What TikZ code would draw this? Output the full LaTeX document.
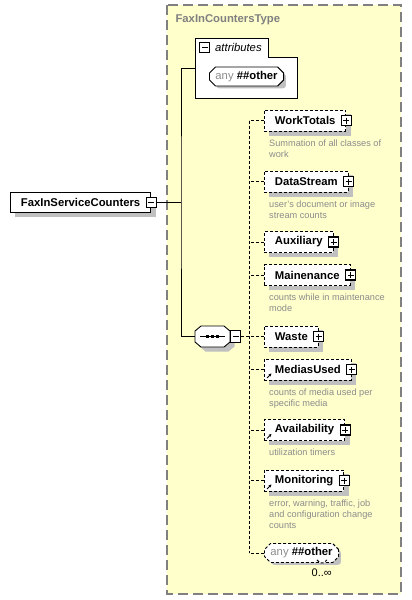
\documentclass[tikz,border=0pt]{standalone}
\usepackage{fontspec}
\setmainfont{Liberation Sans}
\usetikzlibrary{positioning, shapes.misc, arrows.meta}
\definecolor{typeyellow}{RGB}{255,255,204}
\definecolor{framegray}{RGB}{128,128,128}
\definecolor{shadegray}{RGB}{192,192,192}
\definecolor{notegray}{RGB}{140,140,140}
\pgfdeclarelayer{backdrop}
\pgfdeclarelayer{shadows}
\pgfsetlayers{backdrop,shadows,main}

\tikzset{
  namefont/.style={font=\fontsize{11.3}{13.5}\selectfont\bfseries},
  rootbox/.style={draw, fill=white, line width=0.9pt, minimum height=20pt, inner ysep=0pt, inner xsep=10.5pt, namefont, anchor=west},
  elembox/.style={draw, fill=white, line width=0.9pt, dash pattern=on 3pt off 2pt, minimum height=21pt, inner ysep=0pt, inner xsep=10.5pt, namefont, anchor=west},
  anybox/.style={chamfered rectangle, chamfered rectangle xsep=3pt, chamfered rectangle ysep=3pt, draw, fill=white, line width=0.9pt, minimum height=19pt, inner ysep=0pt, inner xsep=3pt, namefont, anchor=west},
  seqbox/.style={minimum width=35pt, minimum height=21pt, inner sep=0pt},
  togbox/.style={draw, solid, fill=white, line width=1.2pt, minimum size=10pt, inner sep=0pt},
  plusbox/.style={togbox, path picture={\draw[line width=1pt] ([xshift=2pt]path picture bounding box.west) -- ([xshift=-2pt]path picture bounding box.east) ([yshift=-2pt]path picture bounding box.north) -- ([yshift=2pt]path picture bounding box.south);}},
  minusbox/.style={togbox, path picture={\draw[line width=1pt] ([xshift=2pt]path picture bounding box.west) -- ([xshift=-2pt]path picture bounding box.east);}},
  note/.style={anchor=north west, inner sep=0pt, align=left, text=notegray, font=\fontsize{9.2}{11}\selectfont},
  tree/.style={line width=0.9pt},
  opt/.style={line width=0.9pt, dash pattern=on 3pt off 2pt},
  refarrow/.style={-{Stealth[length=3pt, width=3pt]}, line width=0.8pt}
}

\begin{document}
\begin{tikzpicture}[x=1pt, y=-1pt]
\useasboundingbox (0,0) rectangle (412,600);
% complex type frame
\begin{pgfonlayer}{backdrop}
\draw[framegray, line width=1.2pt, dash pattern=on 10pt off 5pt, fill=typeyellow] (167,5) rectangle (401,594);
\end{pgfonlayer}
\node[anchor=west, namefont, text=framegray] (tname) at (172,20) {FaxInCountersType};

% attributes
\begin{pgfonlayer}{shadows}
\draw[fill=white, line width=0.9pt] (195,98) -- (195,38) -- (268,38) -- (268,57) -- (297,57) -- (297,98) -- cycle;
\end{pgfonlayer}
\node[minusbox] (attrtog) at (204.5,47.5) {};
\node[anchor=west, font=\fontsize{11.3}{13.5}\selectfont\itshape, inner sep=2pt] (attrname) at (213,47.5) {attributes};
\node[anybox] (anyattr) at (209,76.5) {{\mdseries\color{notegray}any}~\#\#other};
\coordinate (attrin) at (195,68);

% root element
\node[rootbox] (root) at (10,202.5) {FaxInServiceCounters};
\node[minusbox] (roottog) at (root.east) {};
\coordinate (trunk) at (181,202.5);

% sequence
\node[seqbox] (seq) at (212.5,336.5) {};
\draw[fill=white, line width=0.9pt] (201,326) -- (224,326) -- (230,331) -- (230,342) -- (224,347) -- (201,347) -- (195,342) -- (195,331) -- cycle;
\draw[line width=0.9pt] ([xshift=5pt]seq.west) -- ([xshift=-5pt]seq.east);
\foreach \dx in {-5,0,5}
  \fill ([xshift=\dx pt]seq.center) +(-1.6pt,-1.6pt) rectangle +(1.6pt,1.6pt);
\node[minusbox, anchor=west, minimum height=12pt] (seqtog) at (seq.east) {};

\draw[tree] (roottog.east) -- (trunk);
\draw[tree] (attrin) -| (trunk) |- (seq.west);

% child elements
\node[elembox] (wt) at (264,120.5) {WorkTotals};
\node[elembox] (ds) at (264,181.5) {DataStream};
\node[elembox] (aux) at (264,242) {Auxiliary};
\node[elembox] (mnt) at (264,275) {Mainenance};
\node[elembox] (wst) at (264,336.5) {Waste};
\node[elembox] (mu) at (264,369.5) {MediasUsed};
\node[elembox] (av) at (264,430) {Availability};
\node[elembox] (mon) at (264,480.5) {Monitoring};
\node[anybox, dash pattern=on 3pt off 2pt] (oth) at (264,553) {{\mdseries\color{notegray}any}~\#\#other};

\foreach \e in {wt,ds,aux,mnt,wst,mu,av,mon}
  \node[plusbox] (\e tog) at (\e.east) {};

\foreach \e in {mu,av,mon}
  \draw[refarrow] ([shift={(3pt,2.5pt)}]\e.south west) -- ++(4.5pt,4.5pt);

\node[note] (wtnote) at ([shift={(5pt,-8pt)}]wt.south west) {Summation of all classes of\\work};
\node[note] (dsnote) at ([shift={(5pt,-8pt)}]ds.south west) {user's document or image\\stream counts};
\node[note] (mntnote) at ([shift={(5pt,-8pt)}]mnt.south west) {counts while in maintenance\\mode};
\node[note] (munote) at ([shift={(5pt,-8pt)}]mu.south west) {counts of media used per\\specific media};
\node[note] (avnote) at ([shift={(5pt,-8pt)}]av.south west) {utilization timers};
\node[note] (monnote) at ([shift={(5pt,-8pt)}]mon.south west) {error, warning, traffic, job\\and configuration change\\counts};

% occurrence of the wildcard
\draw[opt, fill=white] ([xshift=-19pt]oth.south east) -- ++(3pt,-3pt) -- ++(4pt,0pt) -- ++(3pt,3pt);
\node[anchor=north east, inner sep=0pt, font=\fontsize{11}{13}\selectfont] (othocc) at ([shift={(-4pt,-9pt)}]oth.south east) {0..∞};

% shadows
\begin{pgfonlayer}{shadows}
\foreach \e in {root,wt,ds,aux,mnt,wst,mu,av,mon}
  \fill[shadegray] ([shift={(4.5pt,-4.5pt)}]\e.south west) rectangle ([shift={(4.5pt,-4.5pt)}]\e.north east);
\foreach \e in {anyattr,oth}
  \fill[shadegray, rounded corners=3pt] ([shift={(4pt,-5pt)}]\e.south west) rectangle ([shift={(5pt,-4pt)}]\e.north east);
\fill[shadegray, shift={(4.5,4.5)}] (201,326) -- (224,326) -- (230,331) -- (230,342) -- (224,347) -- (201,347) -- (195,342) -- (195,331) -- cycle;
\end{pgfonlayer}

% connectors
\coordinate (bustop) at (249,120.5);
\draw[opt] (seqtog.east) -- (seqtog.east -| bustop);
\draw[opt] (bustop) -- (bustop |- oth.west);
\foreach \e in {wt,ds,aux,mnt,wst,mu,av,mon,oth}
  \draw[opt] (\e.west) -- (\e.west -| bustop);
\end{tikzpicture}
\end{document}
